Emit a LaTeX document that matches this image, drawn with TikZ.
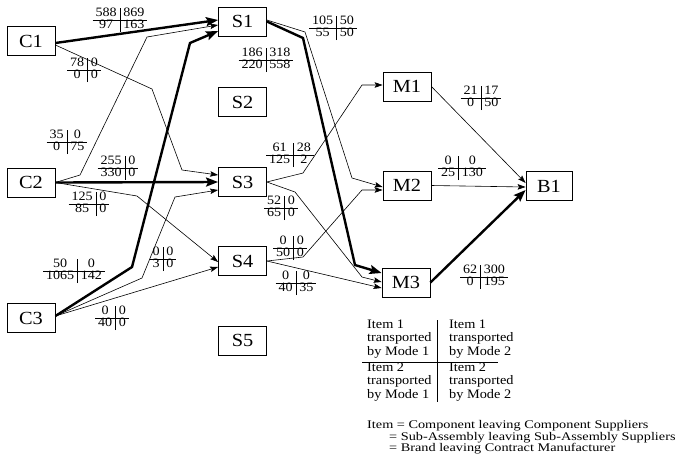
\documentclass[tikz,border=0pt]{standalone}
\usepackage{fontspec}
\setmainfont{Liberation Serif}[FakeStretch=1.1]
\newfontfamily\widefont{Liberation Serif}[FakeStretch=1.22]
\usepackage{array}
\usetikzlibrary{arrows.meta}

% 2x2 flow table: mode 1 / mode 2 columns, item 1 / item 2 rows
\newcommand\flowtab[4]{{\setlength\tabcolsep{3pt}\setlength\arrayrulewidth{0.7pt}%
  \renewcommand\arraystretch{0.85}\begin{tabular}{c|c}#1&#2\\\hline #3&#4\end{tabular}}}

\begin{document}
\begin{tikzpicture}[x=1pt,y=-1pt,
  box/.style={draw,line width=0.8pt,minimum width=48pt,minimum height=29pt,inner sep=0pt,
    font=\fontsize{18.5}{18.5}\selectfont},
  tab/.style={inner sep=0pt,font=\fontsize{12.8}{13}\selectfont},
  lgd/.style={inner sep=0pt,anchor=west,align=left,font=\fontsize{13}{13.8}\selectfont},
  defn/.style={inner sep=0pt,anchor=west,font=\widefont\fontsize{11.7}{12}\selectfont},
  thinflow/.style={line width=0.6pt,-{Stealth[length=8pt,width=5.5pt,inset=1.5pt]}},
  thickflow/.style={line width=2.4pt,-{Stealth[length=12pt,width=9pt,inset=2pt]}},
  rule/.style={line width=0.7pt}]
\useasboundingbox (0,0) rectangle (676,461);

% component suppliers
\node[box] (C1) at (31,41) {C1};
\node[box] (C2) at (31,182.5) {C2};
\node[box] (C3) at (31,318) {C3};
% sub-assembly suppliers
\node[box] (S1) at (242.5,21.5) {S1};
\node[box] (S2) at (242.5,102) {S2};
\node[box] (S3) at (242.5,182) {S3};
\node[box] (S4) at (242.5,261) {S4};
\node[box] (S5) at (242.5,340.5) {S5};
% contract manufacturers
\node[box] (M1) at (407,86.5) {M1};
\node[box] (M2) at (407,185.5) {M2};
\node[box] (M3) at (406,282.5) {M3};
% brand owner
\node[box,minimum width=46pt] (B1) at (549,186) {B1};

% flows into sub-assembly suppliers
\draw[thickflow] ([yshift=-2pt]C1.east) -- ([yshift=1.5pt]S1.west);
\draw[thinflow] ([yshift=-4pt]C1.east) -- (152,89) -- (182,170) -- ([yshift=7pt]S3.west);
\draw[thinflow] (C2.east) -- (80,175) -- (147,37) -- ([yshift=-3.5pt]S1.west);
\draw[thickflow] (C2.east) -- (S3.west);
\draw[thinflow] (C2.east) -- (137,196) -- ([yshift=-1pt]S4.west);
\draw[thickflow] ([yshift=2pt]C3.east) -- (132,267) -- (190,43) -- ([yshift=-9.5pt]S1.west);
\draw[thinflow] ([yshift=2pt]C3.east) -- (142,278) -- (175,197) -- ([yshift=-8pt]S3.west);
\draw[thinflow] ([yshift=2pt]C3.east) -- ([yshift=-6pt]S4.west);

% flows into contract manufacturers
\draw[thickflow] (S1.east) -- (303,38) -- (355,265) -- ([yshift=9.5pt]M3.west);
\draw[thinflow] ([yshift=1.5pt]S1.east) -- (305,32) -- (352,178) -- ([yshift=-1.5pt]M2.west);
\draw[thinflow] (S3.east) -- (303,173) -- (362,85) -- ([yshift=1.5pt]M1.west);
\draw[thinflow] (S3.east) -- (295,192) -- (362,277) -- ([yshift=0.5pt]M3.west);
\draw[thinflow] (S4.east) -- (303,257) -- (362,190) -- ([yshift=-4.5pt]M2.west);
\draw[thinflow] (S4.east) -- ([yshift=-5.5pt]M3.west);

% flows into the brand owner
\draw[thinflow] (M1.east) -- ([yshift=3pt]B1.west);
\draw[thinflow] (M2.east) -- ([yshift=-1pt]B1.west);
\draw[thickflow] (M3.east) -- ([yshift=-4pt]B1.west);

% flow quantities
\node[tab] (q1) at (120,20) {\flowtab{588}{869}{97}{163}};
\node[tab] (q2) at (84,70) {\flowtab{78}{0}{0}{0}};
\node[tab] (q3) at (67,142) {\flowtab{35}{0}{0}{75}};
\node[tab] (q4) at (118,168) {\flowtab{255}{0}{330}{0}};
\node[tab] (q5) at (89,204) {\flowtab{125}{0}{85}{0}};
\node[tab] (q6) at (74,271) {\flowtab{50}{0}{1065}{142}};
\node[tab] (q7) at (163,259) {\flowtab{0}{0}{3}{0}};
\node[tab] (q8) at (112,318) {\flowtab{0}{0}{40}{0}};
\node[tab] (q9) at (266,60) {\flowtab{186}{318}{220}{558}};
\node[tab] (q10) at (333,28) {\flowtab{105}{50}{55}{50}};
\node[tab] (q11) at (290,155) {\flowtab{61}{28}{125}{2}};
\node[tab] (q12) at (281,208) {\flowtab{52}{0}{65}{0}};
\node[tab] (q13) at (290,248) {\flowtab{0}{0}{50}{0}};
\node[tab] (q14) at (296,283) {\flowtab{0}{0}{40}{35}};
\node[tab] (q15) at (462,168) {\flowtab{0}{0}{25}{130}};
\node[tab] (q16) at (481,98) {\flowtab{21}{17}{0}{50}};
\node[tab] (q17) at (484,277) {\flowtab{62}{300}{0}{195}};

% legend
\node[lgd] (k11) at (367,339) {Item 1\\transported\\by Mode 1};
\node[lgd] (k12) at (449,339) {Item 1\\transported\\by Mode 2};
\node[lgd] (k21) at (367,382) {Item 2\\transported\\by Mode 1};
\node[lgd] (k22) at (449,382) {Item 2\\transported\\by Mode 2};
\draw[rule] (437,320) -- (437,402);
\draw[rule] (362,362) -- (498,362);
\node[defn] (d1) at (367,426) {Item = Component leaving Component Suppliers};
\node[defn] (d2) at (389,437.5) {= Sub-Assembly leaving Sub-Assembly Suppliers};
\node[defn] (d3) at (389,449) {= Brand leaving Contract Manufacturer};
\end{tikzpicture}
\end{document}
